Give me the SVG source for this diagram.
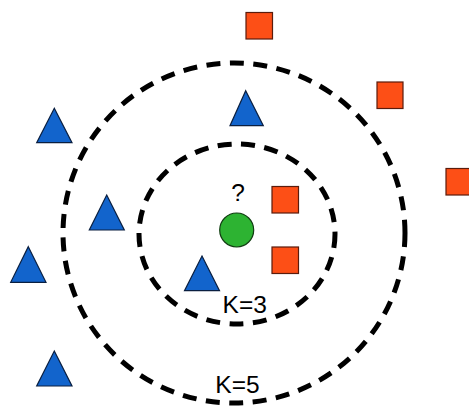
<svg xmlns="http://www.w3.org/2000/svg" width="469" height="406" viewBox="0 0 469 406">
<style>
.ring{fill:none;stroke:#000;stroke-width:5;stroke-dasharray:14 9.5}
.sq{fill:#FD4F16;stroke:#5a1c0c;stroke-width:1.2}
.tri{fill:#1264CC;stroke:#0a1f40;stroke-width:1.2}
.lbl{font-family:"Liberation Sans",Arial,sans-serif;font-size:24.5px;fill:#000;text-anchor:middle}
</style>
<rect width="469" height="406" fill="#fff"/>
<g id="connectors">
<ellipse class="ring" cx="234" cy="233" rx="171" ry="170"/>
<ellipse class="ring" cx="237" cy="234" rx="98" ry="90"/>
</g>
<g id="query">
<circle cx="236.7" cy="230" r="17" fill="#2DB332" stroke="#113d12" stroke-width="1.2"/>
<text class="lbl" x="238" y="201">?</text>
</g>
<g id="sq1"><rect class="sq" x="246" y="12.5" width="26.5" height="26.5"/></g>
<g id="sq2"><rect class="sq" x="377" y="82" width="26" height="26.5"/></g>
<g id="sq3"><rect class="sq" x="446" y="168.5" width="26" height="26.5"/></g>
<g id="sq4"><rect class="sq" x="272" y="186.5" width="26.5" height="26.5"/></g>
<g id="sq5"><rect class="sq" x="272" y="247" width="26.5" height="26.5"/></g>
<g id="tri1"><polygon class="tri" points="54.3,108.3 72,142.7 36.7,142.7"/></g>
<g id="tri2"><polygon class="tri" points="106.7,195 124.3,230 89.3,230"/></g>
<g id="tri3"><polygon class="tri" points="28.3,246.7 46,282.3 10.7,282.3"/></g>
<g id="tri4"><polygon class="tri" points="54.3,351 72,386 36.7,386"/></g>
<g id="tri5"><polygon class="tri" points="245.7,90.7 263.3,125.7 230,125.7"/></g>
<g id="tri6"><polygon class="tri" points="202,256 219.5,290.7 184.5,290.7"/></g>
<g id="labels">
<text class="lbl" x="244.7" y="313">K=3</text>
<text class="lbl" x="237.5" y="392.5">K=5</text>
</g>
</svg>
